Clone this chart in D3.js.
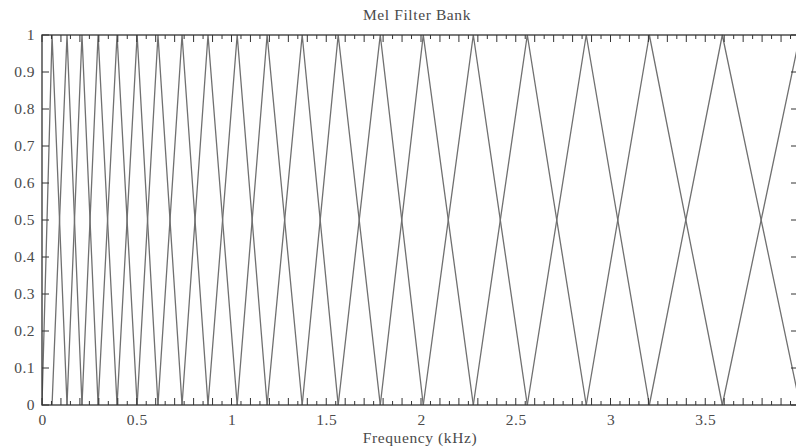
<!DOCTYPE html>
<html>
<head>
<meta charset="utf-8">
<script src="https://cdn.jsdelivr.net/npm/d3@7"></script>
<style>
  html, body { margin: 0; padding: 0; background: #fff; }
  svg { display: block; }
  text { font-family: "Liberation Serif", "DejaVu Serif", serif; fill: #4a4a4a; }
</style>
</head>
<body>
<svg id="chart" width="796" height="447"></svg>
<script>
// Filter center frequencies (kHz); each triangle spans centers[i-1]..centers[i+1]
const centers = [0, 0.053, 0.132, 0.211, 0.296, 0.396, 0.502, 0.612, 0.739, 0.876, 1.030,
                 1.188, 1.373, 1.563, 1.785, 2.012, 2.276, 2.561, 2.872, 3.205, 3.590, 4.0, 4.43];
const xTickValues = [0, 0.5, 1, 1.5, 2, 2.5, 3, 3.5];
const xTickLabels = ["0", "0.5", "1", "1.5", "2", "2.5", "3", "3.5"];
const yTickValues = [0, 0.1, 0.2, 0.3, 0.4, 0.5, 0.6, 0.7, 0.8, 0.9, 1];
const yTickLabels = ["0", "0.1", "0.2", "0.3", "0.4", "0.5", "0.6", "0.7", "0.8", "0.9", "1"];
const titleText = "Mel Filter Bank";
const xLabelText = "Frequency (kHz)";

(function () {
const svg = d3.select("#chart");
const mLeft = 42, mRight = 800, mTop = 35, mBottom = 405;
const fontSize = "15.5px";

const x = d3.scaleLinear().domain([0, 4]).range([mLeft, mRight]);
const y = d3.scaleLinear().domain([0, 1]).range([mBottom, mTop]);

svg.append("defs").append("clipPath").attr("id", "clip")
  .append("rect").attr("x", mLeft).attr("y", mTop - 2).attr("width", mRight - mLeft).attr("height", mBottom - mTop + 4);

// filters
const filters = [];
for (let i = 1; i < centers.length - 1; i++) {
  filters.push([[centers[i - 1], 0], [centers[i], 1], [centers[i + 1], 0]]);
}
const line = d3.line().x(d => x(d[0])).y(d => y(d[1]));
svg.append("g").attr("clip-path", "url(#clip)")
  .selectAll("path").data(filters).join("path")
  .attr("d", line)
  .attr("fill", "none")
  .attr("stroke", "#707070")
  .attr("stroke-width", 1.3);

// minor ticks top & bottom (inward)
const minor = d3.range(0, 80).map(i => i * 0.05);
const tickG = svg.append("g").attr("stroke", "#333").attr("stroke-width", 1);
minor.forEach((v, i) => {
  const len = (i % 2 === 0) ? 7 : 4;
  tickG.append("line").attr("x1", x(v)).attr("x2", x(v)).attr("y1", mBottom).attr("y2", mBottom - len);
  tickG.append("line").attr("x1", x(v)).attr("x2", x(v)).attr("y1", mTop).attr("y2", mTop + len);
});

// y ticks left and right (inward)
yTickValues.forEach(v => {
  tickG.append("line").attr("x1", mLeft).attr("x2", mLeft + 7).attr("y1", y(v)).attr("y2", y(v));
  tickG.append("line").attr("x1", mRight).attr("x2", mRight - 9).attr("y1", y(v)).attr("y2", y(v));
});

// frame
svg.append("rect").attr("x", mLeft).attr("y", mTop).attr("width", mRight - mLeft).attr("height", mBottom - mTop)
  .attr("fill", "none").attr("stroke", "#333").attr("stroke-width", 1.3);

// axis labels
const yAxis = d3.axisLeft(y).tickValues(yTickValues).tickFormat((d, i) => yTickLabels[i]).tickSize(0).tickPadding(7);
const gy = svg.append("g").attr("transform", `translate(${mLeft},0)`).call(yAxis);
gy.select(".domain").remove();
gy.selectAll("text").style("font-family", "Liberation Serif, serif").style("font-size", fontSize)
  .style("letter-spacing", "0.5px").attr("fill", "#4a4a4a");

const xAxis = d3.axisBottom(x).tickValues(xTickValues).tickFormat((d, i) => xTickLabels[i]).tickSize(0).tickPadding(9);
const gx = svg.append("g").attr("transform", `translate(0,${mBottom})`).call(xAxis);
gx.select(".domain").remove();
gx.selectAll("text").style("font-family", "Liberation Serif, serif").style("font-size", fontSize)
  .style("letter-spacing", "0.5px").attr("fill", "#4a4a4a");

svg.append("text").attr("x", 417).attr("y", 20).attr("text-anchor", "middle")
  .style("font-size", "15.5px").style("letter-spacing", "0.6px").text(titleText);
svg.append("text").attr("x", 420).attr("y", 443).attr("text-anchor", "middle")
  .style("font-size", "15.5px").style("letter-spacing", "0.6px").text(xLabelText);
})();
</script>
</body>
</html>
